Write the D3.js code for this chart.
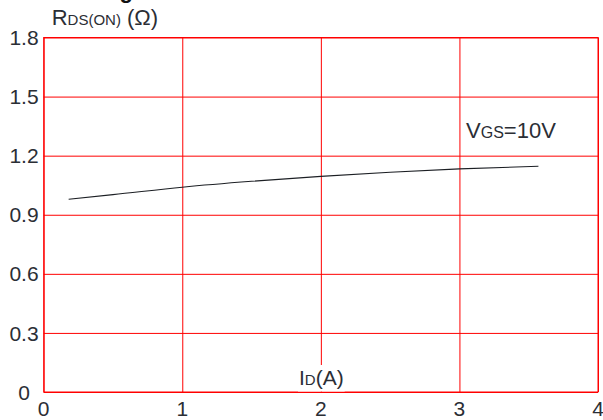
<!DOCTYPE html>
<html>
<head>
<meta charset="utf-8">
<script src="https://cdn.jsdelivr.net/npm/d3@7"></script>
<style>
  html, body { margin: 0; padding: 0; background: #fff; overflow: hidden; }
  svg { display: block; font-family: "Liberation Sans", Arial, Helvetica, sans-serif; }
</style>
</head>
<body>
<svg id="chart" width="603" height="420"></svg>
<script>
// Drain current (A) and on-resistance (ohm) at VGS = 10 V
const drainCurrent = [0.18, 0.5, 1.0, 1.5, 2.0, 2.5, 3.0, 3.57];
const rdsOn        = [0.979, 1.002, 1.040, 1.070, 1.095, 1.116, 1.133, 1.146];

const xTicks = [0, 1, 2, 3, 4];
const yTicks = [0, 0.3, 0.6, 0.9, 1.2, 1.5, 1.8];
const yTickLabels = ["0", "0.3", "0.6", "0.9", "1.2", "1.5", "1.8"];

const svg = d3.select("#chart");
const textColor = "#2b2e35";
const gridColor = "#ff0000";

const x = d3.scaleLinear().domain([0, 4]).range([43.7, 598]);
const y = d3.scaleLinear().domain([0, 1.8]).range([392, 37.5]);

// Figure caption sitting above the frame (only its descender reaches the page)
svg.append("text")
  .attr("x", 100).attr("y", -2)
  .attr("font-size", 22).attr("font-weight", "bold").attr("fill", "#111")
  .text("Fig. 5 On-Resistance vs. Drain Current");

// Grid: vertical lines from the x axis
const xGrid = svg.append("g")
  .attr("transform", `translate(0,${y(0)})`)
  .call(d3.axisBottom(x).tickValues(xTicks).tickSize(-(y(0) - y(1.8))).tickFormat(""));
xGrid.select(".domain").remove();
xGrid.selectAll(".tick line").attr("stroke", gridColor).attr("stroke-width", 1);

// Grid: horizontal lines from the y axis
const yGrid = svg.append("g")
  .attr("transform", `translate(${x(0)},0)`)
  .call(d3.axisLeft(y).tickValues(yTicks).tickSize(-(x(4) - x(0))).tickFormat(""));
yGrid.select(".domain").remove();
yGrid.selectAll(".tick line").attr("stroke", gridColor).attr("stroke-width", 1);

// Frame
svg.append("rect")
  .attr("x", x(0)).attr("y", y(1.8))
  .attr("width", x(4) - x(0)).attr("height", y(0) - y(1.8))
  .attr("fill", "none").attr("stroke", gridColor).attr("stroke-width", 1);

// Y tick labels, centred in the left margin
svg.append("g").selectAll("text")
  .data(yTicks)
  .join("text")
  .attr("x", 24)
  .attr("y", d => y(d) + 7.6)
  .attr("text-anchor", "middle")
  .attr("font-size", 21)
  .attr("fill", textColor)
  .text((d, i) => yTickLabels[i]);

// X tick labels
svg.append("g").selectAll("text")
  .data(xTicks)
  .join("text")
  .attr("x", d => x(d))
  .attr("y", 416)
  .attr("text-anchor", "middle")
  .attr("font-size", 21)
  .attr("fill", textColor)
  .text(d => d);

// Curve
const line = d3.line()
  .x(d => x(d[0]))
  .y(d => y(d[1]))
  .curve(d3.curveMonotoneX);
svg.append("path")
  .datum(d3.zip(drainCurrent, rdsOn))
  .attr("d", line)
  .attr("fill", "none")
  .attr("stroke", "#1c1f24")
  .attr("stroke-width", 1.1);

// Helper for labels with a subscript part
function labelWithSub(g, px, py, parts, anchor) {
  const t = g.append("text")
    .attr("x", px).attr("y", py)
    .attr("text-anchor", anchor || "start")
    .attr("fill", textColor);
  parts.forEach(p => t.append("tspan").attr("font-size", p[1]).text(p[0]));
  return t;
}

// Y axis title
labelWithSub(svg, 51.7, 25, [["R", 22], ["DS(ON)", 15], [" (Ω)", 22]]);

// Series label
labelWithSub(svg, 466, 138.3, [["V", 22], ["GS", 16], ["=10V", 22]]);

// X axis title on a white patch over the grid
const xTitleG = svg.append("g");
const bg = xTitleG.append("rect").attr("fill", "#fff");
const xTitle = labelWithSub(xTitleG, 299, 385, [["I", 21], ["D", 15], ["(A)", 21]]);
const bb = xTitle.node().getBBox();
bg.attr("x", bb.x - 1).attr("y", bb.y - 1)
  .attr("width", bb.width + 2).attr("height", y(0) - bb.y + 0.5);
</script>
</body>
</html>
